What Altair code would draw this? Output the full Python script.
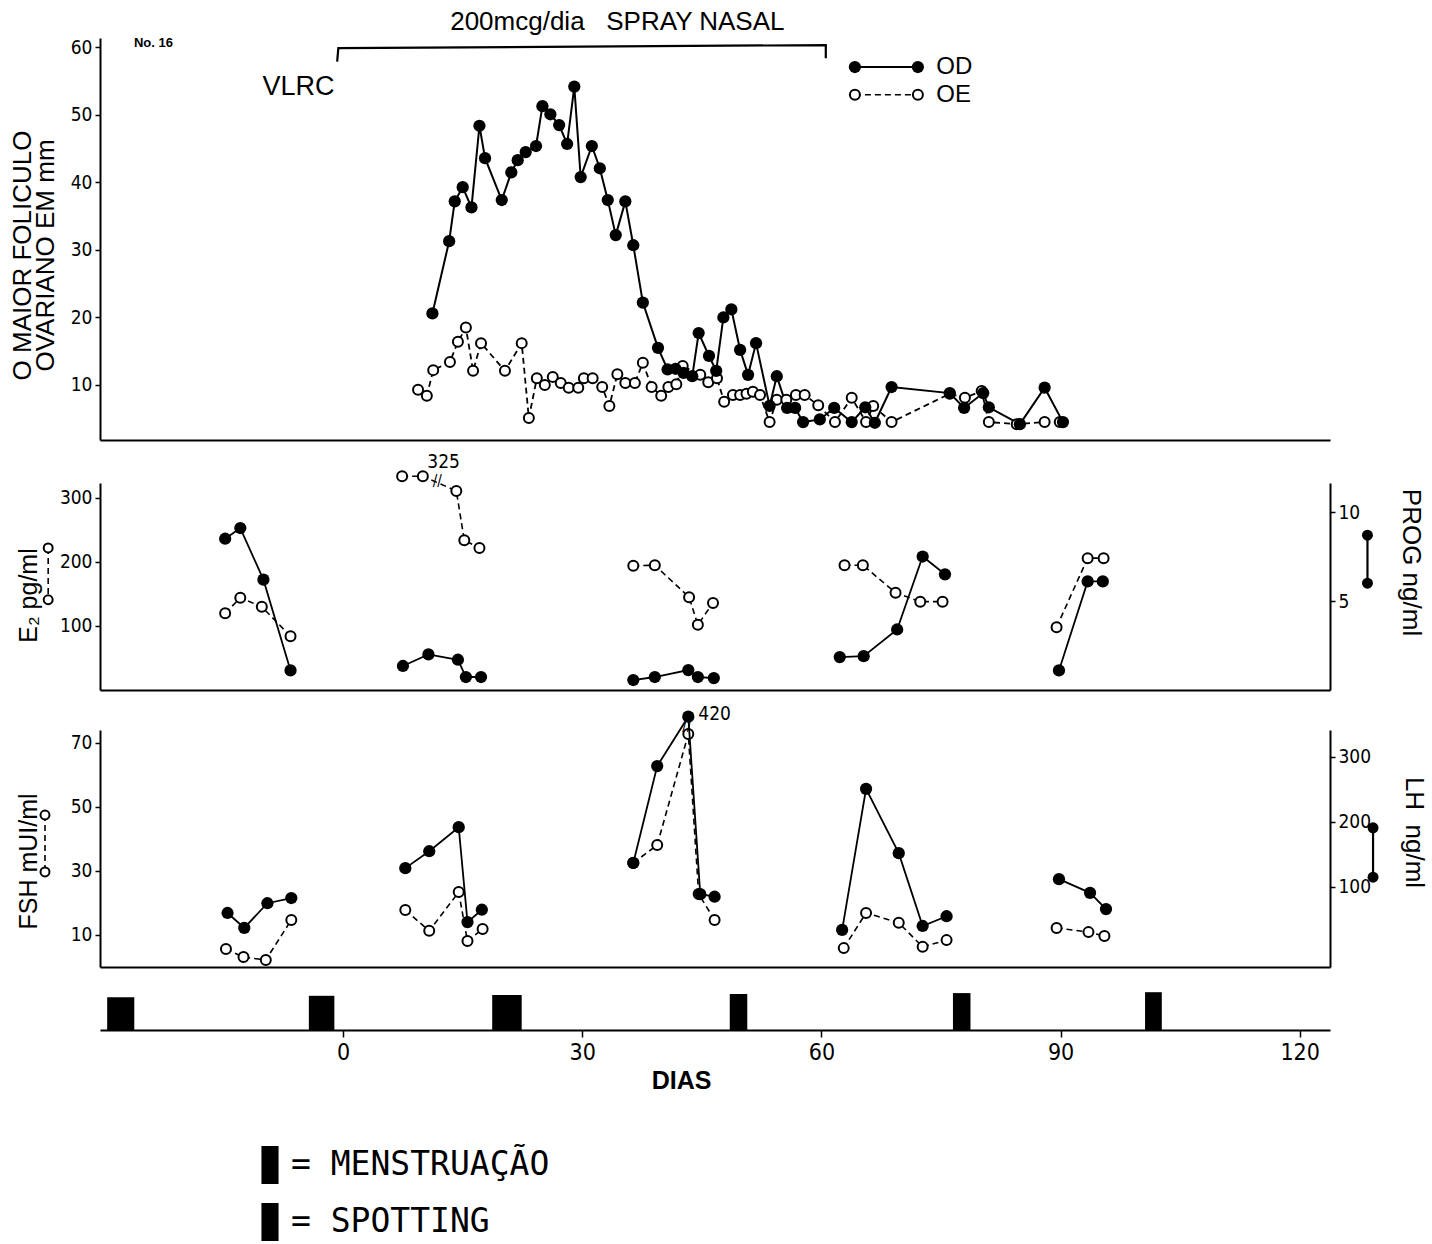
import altair as alt
import pandas as pd

NARROW = "Liberation Sans Narrow, DejaVu Sans Condensed, Liberation Sans, sans-serif"
SANS = "Liberation Sans, DejaVu Sans, sans-serif"
MONO = "DejaVu Sans Mono, Liberation Mono, monospace"

# ---------------- data: panel 1 (largest follicle, mm) ----------------
od_day = [11.2, 13.3, 14.0, 15.0, 16.1, 17.1, 17.8, 19.9, 21.1, 21.9, 22.9, 24.2, 25.0, 26.0, 27.1,
          28.1, 29.0, 29.8, 31.2, 32.2, 33.2, 34.2, 35.4, 36.4, 37.6, 39.5, 40.7, 41.7, 42.7, 43.8,
          44.6, 45.9, 46.8, 47.7, 48.7, 49.8, 50.8, 51.8, 53.5, 54.4, 55.7, 56.7, 57.7, 59.8, 61.6,
          63.8, 65.5, 66.7, 68.8, 76.1, 77.9, 80.3, 81.0, 84.9, 88.0, 90.3]
od_mm = [20.6, 31.3, 37.2, 39.3, 36.3, 48.4, 43.6, 37.4, 41.5, 43.3, 44.5, 45.4, 51.3, 50.1, 48.5,
         45.7, 54.2, 40.8, 45.4, 42.1, 37.4, 32.2, 37.2, 30.7, 22.2, 15.5, 12.3, 12.4, 11.8, 11.3,
         17.7, 14.3, 12.1, 20.0, 21.2, 15.2, 11.5, 16.2, 6.9, 11.3, 6.6, 6.6, 4.5, 4.9, 6.6,
         4.5, 6.7, 4.4, 9.7, 8.8, 6.6, 8.8, 6.7, 4.2, 9.6, 4.5]
oe_day = [9.4, 10.5, 11.3, 13.4, 14.4, 15.4, 16.3, 17.3, 20.3, 22.4, 23.3, 24.3, 25.3, 26.3, 27.3,
          28.3, 29.5, 30.2, 31.3, 32.5, 33.4, 34.4, 35.4, 36.6, 37.6, 38.7, 39.9, 40.8, 41.8, 42.6,
          44.8, 45.8, 46.9, 47.8, 48.9, 49.8, 50.6, 51.4, 52.3, 53.5, 54.4, 55.6, 56.8, 57.9, 59.6,
          61.7, 63.8, 65.6, 66.5, 68.8, 76.1, 78.0, 80.1, 81.0, 84.5, 88.0, 89.9]
oe_mm = [9.3, 8.4, 12.2, 13.4, 16.4, 18.5, 12.1, 16.2, 12.1, 16.2, 5.1, 11.0, 10.0, 11.2, 10.3,
         9.6, 9.6, 11.0, 11.0, 9.7, 6.9, 11.6, 10.3, 10.3, 13.3, 9.7, 8.4, 9.7, 10.1, 12.8,
         11.5, 10.4, 11.0, 7.5, 8.5, 8.5, 8.7, 9.0, 8.5, 4.5, 7.8, 7.8, 8.5, 8.5, 7.0,
         4.5, 8.1, 4.5, 6.9, 4.5, 8.7, 8.1, 9.1, 4.5, 4.2, 4.5, 4.5]

# ---------------- data: panel 2 (E2 open, PROG filled) ----------------
e2_day = [-14.8, -12.9, -10.2, -6.6, 7.4, 10.0, 14.2, 15.2, 17.1, 36.4, 39.1, 43.4, 44.5, 46.4,
          62.9, 65.2, 69.3, 72.4, 75.2, 89.5, 93.4, 95.4]
e2_val = [120, 144, 130, 84, 334, 334, 311, 234, 222, 194, 195, 145, 102, 136,
          195, 195, 152, 138, 138, 98, 206, 206]
e2_grp = [1, 1, 1, 1, 2, 2, 2, 2, 2, 3, 3, 3, 3, 3, 4, 4, 4, 4, 4, 5, 5, 5]
prog_day = [-14.8, -12.9, -10.0, -6.6, 7.5, 10.7, 14.4, 15.4, 17.3, 36.4, 39.1, 43.3, 44.5, 46.5,
            62.3, 65.3, 69.5, 72.7, 75.5, 89.8, 93.4, 95.3]
prog_val = [8.5, 9.1, 6.2, 1.1, 1.35, 2.0, 1.7, 0.73, 0.73, 0.56, 0.73, 1.12, 0.73, 0.67,
            1.85, 1.9, 3.4, 7.5, 6.5, 1.1, 6.1, 6.1]
prog_grp = [1, 1, 1, 1, 2, 2, 2, 2, 2, 3, 3, 3, 3, 3, 4, 4, 4, 4, 4, 5, 5, 5]

# ---------------- data: panel 3 (FSH open, LH filled) ----------------
fsh_day = [-14.7, -12.5, -9.7, -6.5, 7.8, 10.8, 14.5, 15.6, 17.5, 36.4, 39.4, 43.3, 44.6, 46.6,
           62.8, 65.6, 69.7, 72.7, 75.7, 89.5, 93.5, 95.5]
fsh_val = [5.6, 3.1, 2.2, 14.7, 17.8, 11.3, 23.4, 8.1, 11.9, 32.5, 38.1, 72.8, 22.8, 14.7,
           5.9, 16.9, 13.8, 6.3, 8.4, 12.2, 10.9, 9.7]
fsh_grp = [1, 1, 1, 1, 2, 2, 2, 2, 2, 3, 3, 3, 3, 3, 4, 4, 4, 4, 4, 5, 5, 5]
lh_day = [-14.5, -12.4, -9.5, -6.5, 7.8, 10.8, 14.5, 15.6, 17.4, 36.4, 39.4, 43.3, 44.8, 46.6,
          62.6, 65.6, 69.7, 72.7, 75.7, 89.8, 93.7, 95.7]
lh_val = [60, 37, 75, 83, 129, 155, 192, 46, 65, 137, 286, 362, 89, 85,
          34, 251, 152, 40, 55, 112, 91, 66]
lh_grp = [1, 1, 1, 1, 2, 2, 2, 2, 2, 3, 3, 3, 3, 3, 4, 4, 4, 4, 4, 5, 5, 5]

# ---------------- data: bleeding strip ----------------
bleed_start = [-29.6, -4.3, 18.7, 48.5, 76.5, 100.6]
bleed_end = [-26.2, -1.1, 22.4, 50.7, 78.7, 102.7]
bleed_h = [0.73, 0.76, 0.78, 0.8, 0.82, 0.84]
bleed_type = ["SPOTTING", "SPOTTING", "MENSTRUAÇÃO", "SPOTTING", "SPOTTING", "SPOTTING"]
legend_items = ["MENSTRUAÇÃO", "SPOTTING"]
day_ticks = [0, 30, 60, 90, 120]

# ---------------- annotations ----------------
NB = "\u00a0"
top_text = ["200mcg/dia" + NB * 3 + "SPRAY NASAL", "VLRC"]
top_text_day = [34.4, -5.6]
top_text_v = [63.7, 54.1]
top_text_size = [26, 27]
no_text, no_day, no_v = ["No. 16"], [-23.8], [60.6]
bracket_day = [-0.75, -0.6, 60.55, 60.55]
bracket_v = [57.9, 59.9, 60.35, 58.4]
bracket_ord = [0, 1, 2, 3]
leg_day = [64.2, 72.1]
leg_od_v = 57.1
leg_oe_v = 53.0
leg_lbl = ["OD", "OE"]
leg_lbl_day = [74.4, 74.4]
leg_lbl_v = [57.1, 53.0]

X_DOMAIN = [-30.5, 123.8]
W = 1230
H1, H2, H3, H4 = 402, 207, 237, 45
Y1_DOMAIN = [1.85, 61.4]
E2_DOMAIN = [0, 323.4]
PROG_DOMAIN = [0, 11.63]
FSH_DOMAIN = [0, 74.06]
LH_DOMAIN = [-23.1, 341.5]

AX_COMMON = dict(domainColor="black", domainWidth=2, tickColor="black", tickWidth=1.5,
                 labelColor="black", labelFont=NARROW, labelFontSize=19, grid=False,
                 titleColor="black", titleFont=SANS, titleFontWeight="normal",
                 labelPadding=3, tickSize=5)
LEFT_AX = dict(AX_COMMON, titleBaseline="middle")

XAX_HIDDEN = alt.Axis(labels=False, ticks=False, domain=True, title=None, grid=False,
                      domainColor="black", domainWidth=2)


def X(axis=XAX_HIDDEN):
    return alt.X("day:Q", scale=alt.Scale(domain=X_DOMAIN, nice=False, zero=False), axis=axis)


def line(df, yenc, dashed=False, width=2.0):
    kw = dict(color="black", strokeWidth=width)
    if dashed:
        kw["strokeDash"] = [6, 4]
    enc = dict(x=X(), y=yenc)
    if "g" in df.columns:
        enc["detail"] = "g:N"
    if "o" in df.columns:
        enc["order"] = "o:Q"
    return alt.Chart(df).mark_line(**kw).encode(**enc)


def open_pts(df, yenc, size=100):
    return alt.Chart(df).mark_point(shape="circle", filled=True, fill="white", stroke="black",
                                    strokeWidth=2, size=size, opacity=1).encode(x=X(), y=yenc)


def filled_pts(df, yenc, size=150):
    return alt.Chart(df).mark_circle(color="black", size=size, opacity=1).encode(x=X(), y=yenc)


# ---------------- panel 1 ----------------
Y1 = alt.Y("v:Q", scale=alt.Scale(domain=Y1_DOMAIN, nice=False, zero=False),
           axis=alt.Axis(values=[10, 20, 30, 40, 50, 60],
                         title=["O MAIOR FOLICULO", "OVARIANO EM mm"],
                         titleFontSize=26, titleLineHeight=23, titleX=-78, titleY=217,
                         **LEFT_AX))

od_df = pd.DataFrame({"day": od_day, "v": od_mm})
oe_df = pd.DataFrame({"day": oe_day, "v": oe_mm})
txt_df = pd.DataFrame({"day": top_text_day, "v": top_text_v, "t": top_text, "fs": top_text_size})
no_df = pd.DataFrame({"day": no_day, "v": no_v, "t": no_text})
br_df = pd.DataFrame({"day": bracket_day, "v": bracket_v, "o": bracket_ord})
lod_df = pd.DataFrame({"day": leg_day, "v": [leg_od_v] * 2})
loe_df = pd.DataFrame({"day": leg_day, "v": [leg_oe_v] * 2})
llb_df = pd.DataFrame({"day": leg_lbl_day, "v": leg_lbl_v, "t": leg_lbl})

p1 = alt.layer(
    line(oe_df, Y1, dashed=True, width=1.8),
    line(od_df, Y1),
    open_pts(oe_df, Y1),
    filled_pts(od_df, Y1),
    alt.Chart(txt_df).mark_text(font=SANS, color="black", baseline="middle").encode(
        x=X(), y=Y1, text="t:N", size=alt.Size("fs:Q", scale=None)),
    alt.Chart(no_df).mark_text(font=SANS, fontWeight="bold", fontSize=13, color="black").encode(
        x=X(), y=Y1, text="t:N"),
    line(br_df, Y1, width=2.2),
    line(lod_df, Y1),
    filled_pts(lod_df, Y1),
    line(loe_df, Y1, dashed=True, width=1.6),
    open_pts(loe_df, Y1),
    alt.Chart(llb_df).mark_text(font=SANS, fontSize=24, align="left", color="black").encode(
        x=X(), y=Y1, text="t:N"),
).properties(width=W, height=H1)

# ---------------- panel 2 ----------------
YE2 = alt.Y("e2:Q", scale=alt.Scale(domain=E2_DOMAIN, nice=False, zero=False),
            axis=alt.Axis(values=[100, 200, 300], title="E₂ pg/ml", titleFontSize=25,
                          titleX=-72, titleY=112, **LEFT_AX))
YPR = alt.Y("prog:Q", scale=alt.Scale(domain=PROG_DOMAIN, nice=False, zero=False),
            axis=alt.Axis(orient="right", values=[5, 10], title="PROG ng/ml", titleFontSize=26,
                          titlePadding=38, titleY=79, **AX_COMMON))

e2_df = pd.DataFrame({"day": e2_day, "e2": e2_val, "g": e2_grp})
pr_df = pd.DataFrame({"day": prog_day, "prog": prog_val, "g": prog_grp})
e2_glyph = pd.DataFrame({"day": [-37.0, -37.0], "e2": [222, 141]})
pr_glyph = pd.DataFrame({"day": [128.5, 128.5], "prog": [8.7, 6.0]})
e2_note = pd.DataFrame({"day": [12.6, 11.8], "e2": [356, 326], "t": ["325", "//"],
                        "fs": [19, 15]})

p2_left = alt.layer(
    line(e2_df, YE2, dashed=True, width=1.6),
    open_pts(e2_df, YE2),
    line(e2_glyph, YE2, dashed=True, width=1.6),
    open_pts(e2_glyph, YE2, size=80),
    alt.Chart(e2_note).mark_text(font=NARROW, color="black").encode(
        x=X(), y=YE2, text="t:N", size=alt.Size("fs:Q", scale=None)),
)
p2_right = alt.layer(
    line(pr_df, YPR, width=1.8),
    filled_pts(pr_df, YPR),
    line(pr_glyph, YPR, width=2.2),
    filled_pts(pr_glyph, YPR, size=120),
)
p2 = alt.layer(p2_left, p2_right).resolve_scale(y="independent").properties(width=W, height=H2)

# ---------------- panel 3 ----------------
YFS = alt.Y("fsh:Q", scale=alt.Scale(domain=FSH_DOMAIN, nice=False, zero=False),
            axis=alt.Axis(values=[10, 30, 50, 70], title="FSH mUI/ml", titleFontSize=25,
                          titleX=-72, titleY=131, **LEFT_AX))
YLH = alt.Y("lh:Q", scale=alt.Scale(domain=LH_DOMAIN, nice=False, zero=False),
            axis=alt.Axis(orient="right", values=[100, 200, 300], title="LH" + NB * 2 + "ng/ml",
                          titleFontSize=26, titlePadding=30, titleY=102, **AX_COMMON))

fs_df = pd.DataFrame({"day": fsh_day, "fsh": fsh_val, "g": fsh_grp})
lh_df = pd.DataFrame({"day": lh_day, "lh": lh_val, "g": lh_grp})
fs_glyph = pd.DataFrame({"day": [-37.4, -37.4], "fsh": [47.5, 29.7]})
lh_glyph = pd.DataFrame({"day": [129.2, 129.2], "lh": [191, 115]})
lh_note = pd.DataFrame({"day": [46.6, 43.1], "lh": [366, 347], "t": ["420", "//"],
                        "fs": [19, 15]})

p3_left = alt.layer(
    line(fs_df, YFS, dashed=True, width=1.6),
    open_pts(fs_df, YFS),
    line(fs_glyph, YFS, dashed=True, width=1.6),
    open_pts(fs_glyph, YFS, size=80),
)
p3_right = alt.layer(
    line(lh_df, YLH, width=1.8),
    filled_pts(lh_df, YLH),
    line(lh_glyph, YLH, width=2.2),
    filled_pts(lh_glyph, YLH, size=120),
    alt.Chart(lh_note).mark_text(font=NARROW, color="black").encode(
        x=X(), y=YLH, text="t:N", size=alt.Size("fs:Q", scale=None)),
)
p3 = alt.layer(p3_left, p3_right).resolve_scale(y="independent").properties(width=W, height=H3)

# ---------------- bleeding strip ----------------
bl_df = pd.DataFrame({"day": bleed_start, "day2": bleed_end, "h": bleed_h, "tipo": bleed_type})
XAX_DAYS = alt.Axis(values=day_ticks, title="DIAS", titleFont=SANS, titleFontSize=25,
                    titleFontWeight="bold", titleColor="black", titlePadding=4, titleX=581,
                    labelFont=NARROW, labelFontSize=23, labelColor="black", labelPadding=4,
                    tickSize=7, tickWidth=1.5, tickColor="black", domainColor="black",
                    domainWidth=2, grid=False)
p4 = alt.Chart(bl_df).mark_rect(opacity=1).encode(
    x=alt.X("day:Q", scale=alt.Scale(domain=X_DOMAIN, nice=False, zero=False), axis=XAX_DAYS),
    x2="day2:Q",
    y=alt.Y("h:Q", scale=alt.Scale(domain=[0, 1], nice=False), axis=None),
    y2=alt.datum(0),
    color=alt.Color("tipo:N", scale=alt.Scale(domain=legend_items, range=["black", "black"]),
                    legend=alt.Legend(orient="none", legendX=151, legendY=1108, title=None,
                                      direction="vertical",
                                      labelExpr="'= ' + datum.label",
                                      symbolType="M-0.45,-1H0.45V1H-0.45Z", symbolSize=1444,
                                      symbolStrokeWidth=0, symbolFillColor="black",
                                      labelFont=MONO, labelFontSize=33, labelColor="black",
                                      labelOffset=2, rowPadding=19, labelLimit=600)),
).properties(width=W, height=H4)

chart = alt.vconcat(
    p1,
    alt.vconcat(p2, alt.vconcat(p3, p4, spacing=18, bounds="flush"), spacing=40, bounds="flush"),
    spacing=43, bounds="flush",
).properties(
    padding={"left": 9, "top": 9, "right": 2, "bottom": 0}
).configure(background="white").configure_view(stroke="transparent", strokeWidth=0)

chart.save("out.html", embed_options={"renderer": "svg", "actions": False})
